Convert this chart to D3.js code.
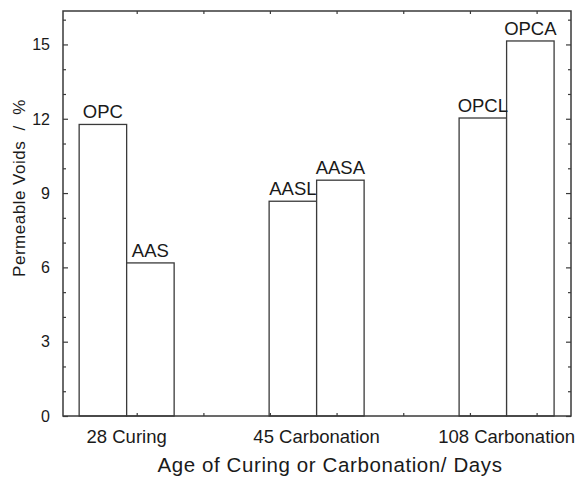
<!DOCTYPE html>
<html>
<head>
<meta charset="utf-8">
<script src="https://cdn.jsdelivr.net/npm/d3@7"></script>
<style>
  body { margin: 0; background: #fff; }
  svg { display: block; font-family: "Liberation Sans", Arial, sans-serif; }
  text { fill: #1a1a1a; }
</style>
</head>
<body>
<svg id="chart"></svg>
<script>
const width = 577, height = 478;
const margin = {top: 11, right: 6, bottom: 62, left: 63};

// data
const categories = ["28 Curing", "45 Carbonation", "108 Carbonation"];
const leftNames = ["OPC", "AASL", "OPCL"];
const leftValues = [11.77, 8.67, 12.03];
const rightNames = ["AAS", "AASA", "OPCA"];
const rightValues = [6.18, 9.52, 15.14];
const yMajor = [0, 3, 6, 9, 12, 15];
const yMinor = [1, 2, 4, 5, 7, 8, 10, 11, 13, 14, 16];
const xMinor = [0.053, 0.404, 0.754, 1.105, 1.456, 1.807, 2.158];

const bars = [];
categories.forEach((c, i) => {
    bars.push({cat: i, side: -1, name: leftNames[i], value: leftValues[i]});
    bars.push({cat: i, side: 1, name: rightNames[i], value: rightValues[i]});
});

const svg = d3.select("#chart")
    .attr("width", width)
    .attr("height", height);

const x = d3.scaleLinear()
    .domain([-0.335, 2.339])
    .range([margin.left, width - margin.right]);

const y = d3.scaleLinear()
    .domain([0, 16.35])
    .range([height - margin.bottom, margin.top]);

const barW = 0.25;
const lineColor = "#3a3a3a";

// bars
svg.append("g")
    .selectAll("rect")
    .data(bars)
    .join("rect")
    .attr("x", d => d.side < 0 ? x(d.cat - barW) : x(d.cat))
    .attr("width", x(barW) - x(0))
    .attr("y", d => y(d.value))
    .attr("height", d => y(0) - y(d.value))
    .attr("fill", "#fff")
    .attr("stroke", lineColor)
    .attr("stroke-width", 1.3);

// bar labels
svg.append("g")
    .selectAll("text")
    .data(bars)
    .join("text")
    .attr("x", d => x(d.cat + d.side * barW / 2))
    .attr("y", d => y(d.value) - 6)
    .attr("text-anchor", "middle")
    .style("font-size", "18.5px")
    .text(d => d.name);

// frame axes with inward ticks
const x0 = margin.left, x1 = width - margin.right;
const y0 = height - margin.bottom, y1 = margin.top;

const left = svg.append("g")
    .attr("transform", `translate(${x0},0)`)
    .call(d3.axisRight(y).tickValues(yMajor).tickSize(5).tickFormat(""));
left.append("g").call(d3.axisRight(y).tickValues(yMinor).tickSize(3).tickFormat(""));

const right = svg.append("g")
    .attr("transform", `translate(${x1},0)`)
    .call(d3.axisLeft(y).tickValues(yMajor).tickSize(5).tickFormat(""));
right.append("g").call(d3.axisLeft(y).tickValues(yMinor).tickSize(3).tickFormat(""));

svg.append("g")
    .attr("transform", `translate(0,${y0})`)
    .call(d3.axisTop(x).tickValues(xMinor).tickSize(3).tickFormat(""));
svg.append("g")
    .attr("transform", `translate(0,${y1})`)
    .call(d3.axisBottom(x).tickValues(xMinor).tickSize(3).tickFormat(""));

svg.selectAll(".domain").remove();
svg.selectAll(".tick line").attr("stroke", lineColor).attr("stroke-width", 1.2);

svg.append("rect")
    .attr("x", x0).attr("y", y1)
    .attr("width", x1 - x0).attr("height", y0 - y1)
    .attr("fill", "none")
    .attr("stroke", lineColor)
    .attr("stroke-width", 1.5);

// y tick labels
svg.append("g")
    .selectAll("text")
    .data(yMajor)
    .join("text")
    .attr("x", x0 - 13)
    .attr("y", d => y(d))
    .attr("dy", "0.36em")
    .attr("text-anchor", "end")
    .style("font-size", "16px")
    .text(d => d);

// x category labels
svg.append("g")
    .selectAll("text")
    .data(categories)
    .join("text")
    .attr("x", (d, i) => x(i))
    .attr("y", y0 + 27)
    .attr("text-anchor", "middle")
    .style("font-size", "18.5px")
    .text(d => d);

// axis titles
svg.append("text")
    .attr("x", (x0 + x1) / 2 + 13)
    .attr("y", y0 + 56)
    .attr("text-anchor", "middle")
    .style("font-size", "20.5px")
    .style("letter-spacing", "0.6px")
    .text("Age of Curing or Carbonation/ Days");

svg.append("text")
    .attr("transform", `translate(25,188) rotate(-90)`)
    .attr("text-anchor", "middle")
    .style("font-size", "17px")
    .style("letter-spacing", "0.5px")
    .style("white-space", "pre")
    .text("Permeable Voids  /  %");
</script>
</body>
</html>
